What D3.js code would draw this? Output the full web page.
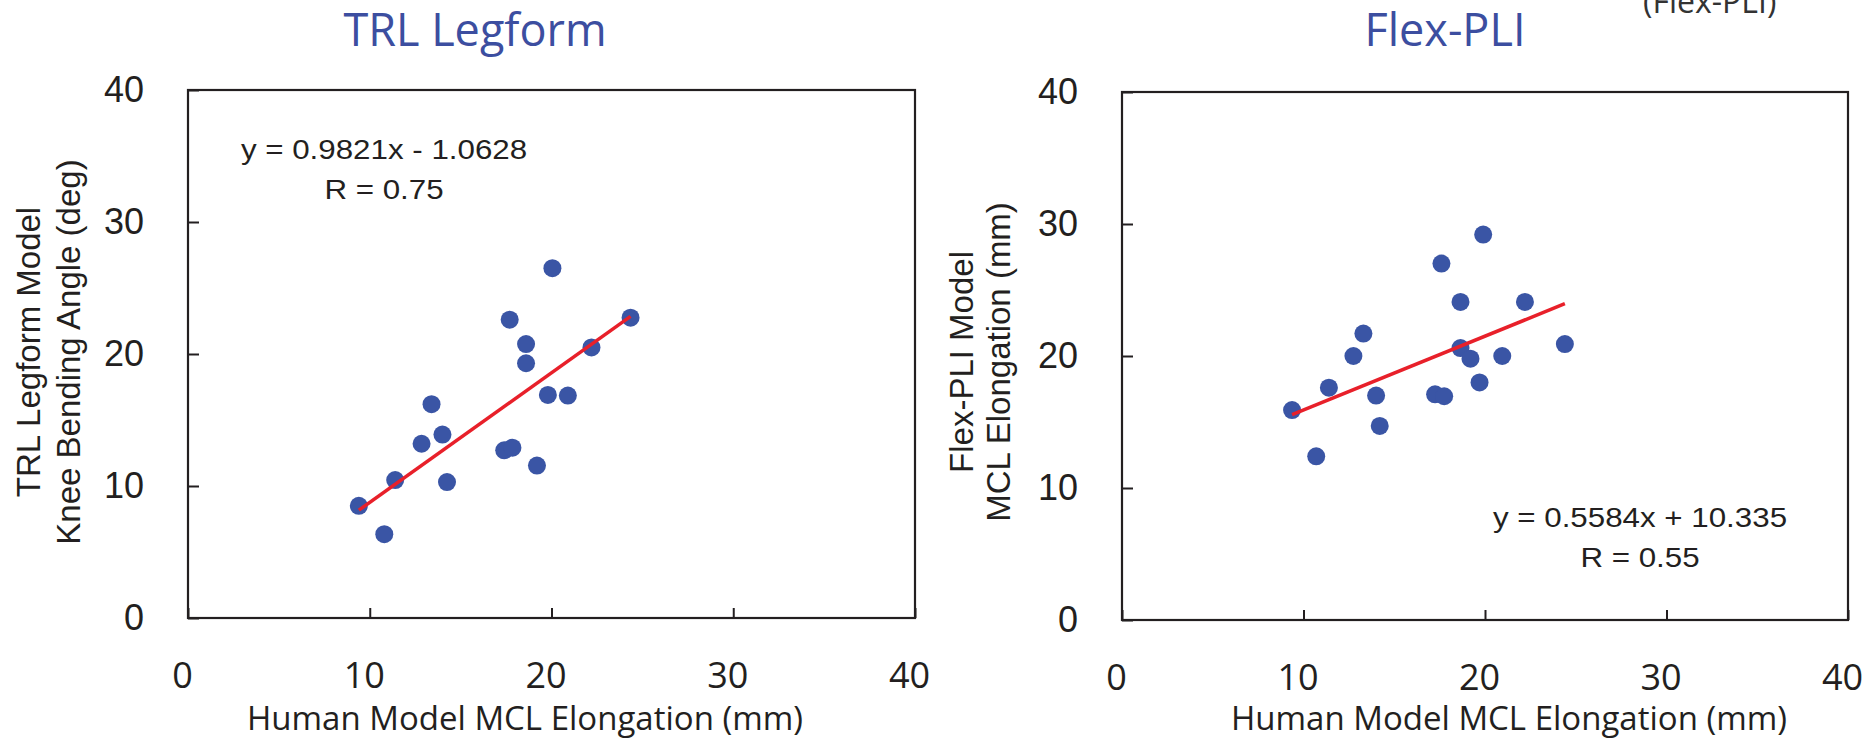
<!DOCTYPE html>
<html>
<head>
<meta charset="utf-8">
<script src="https://cdn.jsdelivr.net/npm/d3@7"></script>
<style>
  body { margin: 0; background: #fff; }
  svg { display: block; }
</style>
</head>
<body>
<svg id="svg"></svg>
<script>
const width = 1874;
const height = 738;

// data
const trlX = [20.05, 17.7, 24.35, 18.6, 22.2, 18.6, 13.4, 19.8, 20.9, 14.0, 12.85, 17.4, 17.85, 19.2, 11.4, 14.25, 9.4, 10.8];
const trlY = [26.5, 22.6, 22.75, 20.75, 20.5, 19.3, 16.2, 16.9, 16.85, 13.9, 13.2, 12.7, 12.9, 11.55, 10.45, 10.3, 8.5, 6.35];
const flexX = [19.9, 17.6, 18.65, 22.2, 13.3, 24.4, 18.65, 12.75, 19.2, 20.95, 19.7, 11.4, 14.0, 17.25, 17.75, 9.37, 14.2, 10.7];
const flexY = [29.2, 27.0, 24.1, 24.1, 21.7, 20.9, 20.6, 20.0, 19.8, 20.0, 18.0, 17.6, 17.0, 17.1, 16.95, 15.9, 14.7, 12.4];

const trlFit = { slope: 0.9821, intercept: -1.0628 };
const flexFit = { slope: 0.5584, intercept: 10.335 };

const xTicks = [0, 10, 20, 30, 40];
const yTicks = [0, 10, 20, 30, 40];

const trlTitle = "TRL Legform";
const flexTitle = "Flex-PLI";
const xTitle = "Human Model MCL Elongation (mm)";
const trlYTitle = ["TRL Legform Model", "Knee Bending Angle (deg)"];
const flexYTitle = ["Flex-PLI Model", "MCL Elongation (mm)"];
const trlEq = ["y = 0.9821x - 1.0628", "R = 0.75"];
const flexEq = ["y = 0.5584x + 10.335", "R = 0.55"];

const blue = "#3a55a5";
const titleBlue = "#3c4ea0";
const red = "#e8202a";
const ink = "#231f20";

let svg = d3.select("#svg").attr("width", width).attr("height", height);

const panels = [
    {
        xs: trlX, ys: trlY, fit: trlFit, title: trlTitle, yTitle: trlYTitle, eq: trlEq,
        left: 188, right: 915, top: 90, bottom: 618,
        titleX: 475, xTitleX: 525,
        yTitleX: [40, 80], yTitleY: 352,
        eqX: 384, eqY: [159, 199]
    },
    {
        xs: flexX, ys: flexY, fit: flexFit, title: flexTitle, yTitle: flexYTitle, eq: flexEq,
        left: 1122, right: 1848, top: 92, bottom: 620,
        titleX: 1445, xTitleX: 1509,
        yTitleX: [973, 1010], yTitleY: 362,
        eqX: 1640, eqY: [527, 567]
    }
];

function drawPanel(p) {
    const xScale = d3.scaleLinear().domain([0, 40]).range([p.left, p.right]);
    const yScale = d3.scaleLinear().domain([0, 40]).range([p.bottom, p.top]);

    // title
    svg.append("text")
        .attr("x", p.titleX)
        .attr("y", 46)
        .attr("text-anchor", "middle")
        .style("font-family", "'Open Sans'")
        .style("font-size", "45px")
        .style("fill", titleBlue)
        .text(p.title);

    // y axis, ticks pointing inward
    const yAxis = svg.append("g")
        .attr("transform", `translate(${p.left},0)`)
        .call(d3.axisLeft(yScale).tickValues(yTicks).tickSizeInner(-11).tickSizeOuter(0).tickPadding(44));
    yAxis.select(".domain").remove();
    yAxis.selectAll("line").attr("stroke", ink).attr("stroke-width", 2);
    yAxis.selectAll("text")
        .style("font-family", "'Liberation Sans', Arial")
        .style("font-size", "36px")
        .style("fill", ink);

    const xAxis = svg.append("g")
        .attr("transform", `translate(0,${p.bottom})`)
        .call(d3.axisBottom(xScale).tickValues(xTicks).tickSizeInner(-10).tickSizeOuter(0).tickPadding(44));
    xAxis.select(".domain").remove();
    xAxis.selectAll("line").attr("stroke", ink).attr("stroke-width", 2);
    xAxis.selectAll("text")
        .attr("dx", -6)
        .style("font-family", "'Open Sans'")
        .style("font-size", "36px")
        .style("fill", ink);

    // frame
    svg.append("rect")
        .attr("x", xScale(0))
        .attr("y", yScale(40))
        .attr("width", xScale(40) - xScale(0))
        .attr("height", yScale(0) - yScale(40))
        .attr("fill", "none")
        .attr("stroke", ink)
        .attr("stroke-width", 2.2);

    // x title
    svg.append("text")
        .attr("x", p.xTitleX)
        .attr("y", 730)
        .attr("text-anchor", "middle")
        .style("font-family", "'Open Sans'")
        .style("font-size", "33px")
        .style("fill", ink)
        .text(xTitle);

    // y title, two lines rotated
    p.yTitle.forEach((t, i) => {
        svg.append("text")
            .attr("transform", `translate(${p.yTitleX[i]},${p.yTitleY}) rotate(-90)`)
            .attr("text-anchor", "middle")
            .style("font-family", "'Liberation Sans', Arial")
            .style("font-size", "33px")
            .style("fill", ink)
            .text(t);
    });

    // points
    const pts = p.xs.map((x, i) => ({ x: x, y: p.ys[i] }));
    svg.append("g").selectAll("circle")
        .data(pts)
        .enter().append("circle")
        .attr("cx", d => xScale(d.x))
        .attr("cy", d => yScale(d.y))
        .attr("r", 9)
        .attr("fill", blue);

    // fitted line over the data range
    const ext = d3.extent(p.xs);
    const fitPts = ext.map(x => ({ x: x, y: p.fit.slope * x + p.fit.intercept }));
    svg.append("path")
        .datum(fitPts)
        .attr("d", d3.line().x(d => xScale(d.x)).y(d => yScale(d.y)))
        .attr("stroke", red)
        .attr("stroke-width", 3.5)
        .attr("fill", "none");

    // equation text, slightly stretched
    p.eq.forEach((t, i) => {
        svg.append("text")
            .attr("transform", `translate(${p.eqX},${p.eqY[i]}) scale(1.16,1)`)
            .attr("text-anchor", "middle")
            .style("font-family", "'Liberation Sans', Arial")
            .style("font-size", "27px")
            .style("fill", ink)
            .text(t);
    });
}

panels.forEach(drawPanel);

// cut-off label at top right
svg.append("text")
    .attr("x", 1643)
    .attr("y", 13)
    .style("font-family", "'Open Sans'")
    .style("font-size", "32px")
    .style("fill", "#333")
    .text("(Flex-PLI)");
</script>
</body>
</html>
